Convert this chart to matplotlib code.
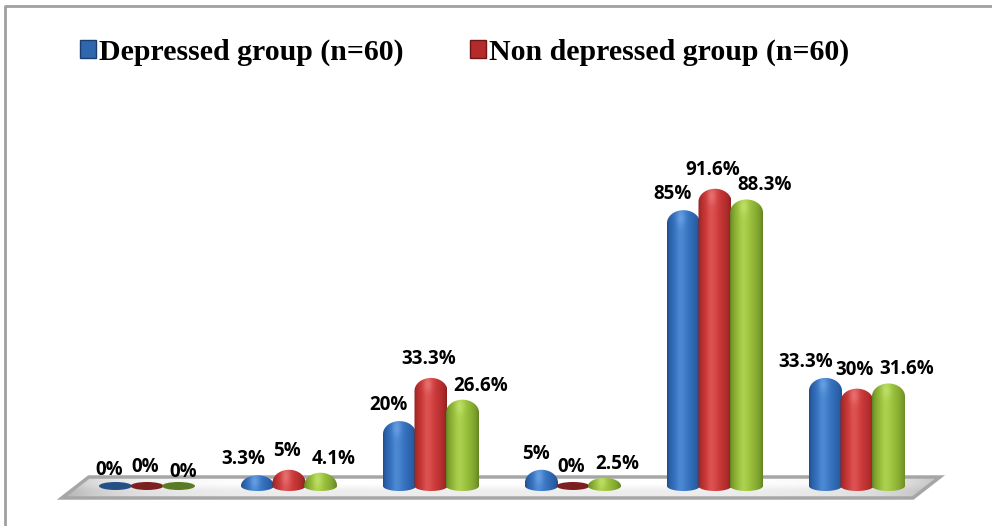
import numpy as np
import matplotlib.pyplot as plt
from matplotlib.path import Path
from matplotlib.patches import PathPatch, Patch, Ellipse, Polygon
from matplotlib.lines import Line2D
from matplotlib.colors import to_rgb

# Data (percent)
series_names = ['Depressed group (n=60)', 'Non depressed group (n=60)', 'Total (n=120)']
depressed = [0, 3.3, 20, 5, 85, 33.3]
non_depressed = [0, 5, 33.3, 0, 91.6, 30]
total = [0, 4.1, 26.6, 2.5, 88.3, 31.6]

# colours: (dark, base, light, flat colour for 0 %)
palette = [
    ('#1d4a86', '#3776c6', '#7fb2ee', '#274f86'),
    ('#8a1d1d', '#d23a3a', '#f28a8a', '#7c1f1f'),
    ('#5f7d1f', '#9cc43c', '#cfeb7c', '#5b7a26'),
]

# layout in pixels -> data units
GROUP_PX = 142.0   # distance between groups
PCT_PX = 3.245     # pixels per percent
W, H = 992, 526
x0_px, base_px = 147, 486   # centre of first group, floor line (from top)

fig = plt.figure(figsize=(W / 100, H / 100), dpi=100)
ax = fig.add_axes([0, 0, 1, 1])
ax.axis('off')
xlim = (-x0_px / GROUP_PX, (W - x0_px) / GROUP_PX)
ylim = (-(H - base_px) / PCT_PX, base_px / PCT_PX)

bar_w = 33 / GROUP_PX
step = 31.5 / GROUP_PX
dome = 13 / PCT_PX      # height of rounded top
rb = 5 / PCT_PX         # half height of bottom ellipse
n = len(depressed)


def hexc(c):
    return np.array(to_rgb(c))


def shade_img(dark, base, light, top, rd, ny=160, nx=80):
    t = np.linspace(0, 1, nx)
    g = np.where(t < 0.4, 0.5 * t / 0.4, 0.5 + 0.5 * (t - 0.4) / 0.6)
    p = np.sin(np.pi * g)
    dark, base, light = hexc(dark), hexc(base), hexc(light)
    row = dark[None, :] * (1 - p[:, None] ** 0.6) + base[None, :] * p[:, None] ** 0.6
    row = row + (light - base)[None, :] * (p[:, None] ** 8) * 0.3
    y = np.linspace(-rb, top, ny)
    yc = top - rd * 0.55
    spot = np.exp(-((t[None, :] - 0.42) / 0.13) ** 2 - ((y[:, None] - yc) / max(rd * 0.6, 1e-3)) ** 2) * 0.5
    img = row[None, :, :] * (1 - spot[:, :, None]) + light[None, None, :] * spot[:, :, None]
    return np.clip(img, 0, 1)


# floor
fl, fr = -0.6, 5.394
depth = 27 / GROUP_PX
yf, yb = -12 / PCT_PX, 9 / PCT_PX
floor = Polygon([(fl, yf), (fr, yf), (fr + depth, yb), (fl + depth, yb)],
                closed=True, facecolor='none', edgecolor='#a6a6a6', lw=2.5, zorder=3)
ax.add_patch(floor)
t = np.linspace(0, 1, 300)
fshade = 1 - 0.25 * (np.exp(-t / 0.06) + np.exp(-(1 - t) / 0.06))
fimg = np.ones((2, 300, 3)) * fshade[None, :, None]
fimg[0] *= 0.93
fim = ax.imshow(fimg, extent=[fl, fr + depth, yf, yb], origin='lower', aspect='auto', zorder=1)
fim.set_clip_path(Polygon([(fl, yf), (fr, yf), (fr + depth, yb), (fl + depth, yb)],
                          closed=True, transform=ax.transData))

# bars
lab_font = dict(fontsize=13.5, fontweight='bold', family='Open Sans', zorder=10,
                va='baseline', textcoords='offset pixels')
for s, vals in enumerate([depressed, non_depressed, total]):
    dark, base, light, flat = palette[s]
    for i, v in enumerate(vals):
        xc = i + (s - 1) * step
        xa, xb = xc - bar_w / 2, xc + bar_w / 2
        if v == 0:
            ax.add_patch(Ellipse((xc, 0), bar_w, 8 / PCT_PX, facecolor=flat,
                                 edgecolor='none', zorder=5 + s))
        else:
            rd = min(dome, v)
            th = np.linspace(np.pi, 0, 40)
            top_x = xc + bar_w / 2 * np.cos(th)
            top_y = v - rd + rd * np.sin(th)
            bh = np.linspace(0, -np.pi, 40)
            bot_x = xc + bar_w / 2 * np.cos(bh)
            bot_y = rb * np.sin(bh)
            verts = np.vstack([[xa, 0], np.column_stack([top_x, top_y]),
                               [xb, 0], np.column_stack([bot_x, bot_y])])
            path = Path(np.vstack([verts, verts[:1]]))
            patch = PathPatch(path, facecolor='none', edgecolor='none', zorder=5 + s)
            ax.add_patch(patch)
            im = ax.imshow(shade_img(dark, base, light, v, rd), extent=[xa, xb, -rb, v],
                           origin='lower', aspect='auto', zorder=5 + s)
            im.set_clip_path(patch)

        label = f'{v:g}%'
        if s == 0:
            ax.annotate(label, (xc, v), xytext=(8, 11), ha='right', **lab_font)
        elif s == 1:
            ax.annotate(label, (xc, v), xytext=(-2, 14), ha='center', **lab_font)
        else:
            ax.annotate(label, (xc, v), xytext=(-9, 9), ha='left', **lab_font)

ax.set_xlim(*xlim)
ax.set_ylim(*ylim)

# legend (only the two groups are shown)
handles = [Patch(facecolor='#2f67ae', edgecolor='#1a3d6e'),
           Patch(facecolor='#b52b2b', edgecolor='#6e1515')]
fig.legend(handles, series_names[:2], loc='center left', bbox_to_anchor=(80 / W, 1 - 52 / H),
           ncol=2, frameon=False, borderpad=0, borderaxespad=0,
           prop={'family': 'Liberation Serif', 'weight': 'bold', 'size': 21.5},
           handlelength=0.55, handleheight=0.55, handletextpad=0.1, columnspacing=2.2)

# frame
fig.add_artist(Line2D([5 / W, 5 / W, 1], [0, 1 - 6 / H, 1 - 6 / H], color='#a0a0a0',
                      lw=2, transform=fig.transFigure))

fig.savefig('out.png', dpi=100)
